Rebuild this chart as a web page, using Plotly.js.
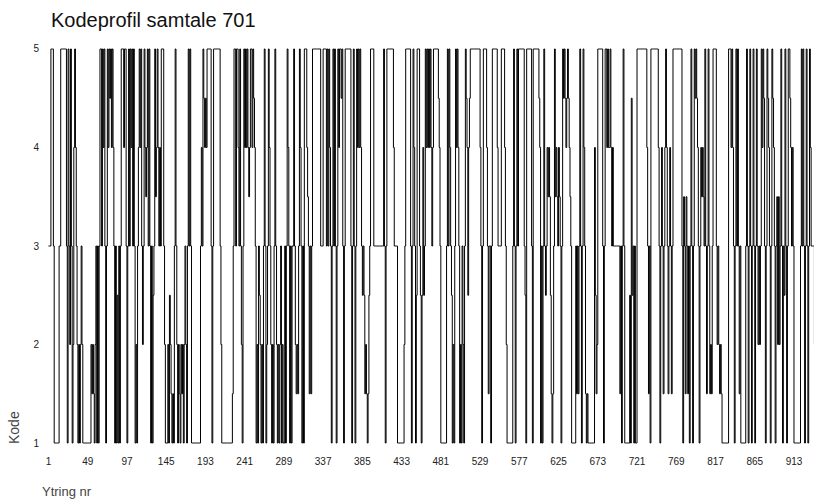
<!DOCTYPE html>
<html>
<head>
<meta charset="utf-8">
<script src="https://cdn.plot.ly/plotly-3.0.1.min.js"></script>
<style>html,body{margin:0;padding:0;background:#fff;}#chart{width:814px;height:504px;}</style>
</head>
<body>
<div id="chart"></div>
<script>
// Code values per utterance in blocks of 48 utterances
const blockA = [3,3,3,5,5,5,3,1,1,1,1,1,1,3,3,5,5,5,5,5,5,5,3,1,5,3,2,5,3,1,2,4,5,4,3,2,1,2,1,2,3,2,1,1,1,1,1,1];
const blockB = [1,1,1,1,2,1.5,2,1.5,1,2, 3,1,3,1,3,5,5,3,5,4, 5,3,1,3,5,4,5,4.5,5,4, 5,4,3,1,3,1,2.5,1,3,1, 3,5,5,5,4,5,5,3];
const blockC = [1,3,5,3,5,4,5,3,5,3, 1,2,1,3,4,5,4,5,3,2, 3,5,4,3.5,4,5,3,5,3,1, 3,1,2.5,3,5,3.5,4,5,4,3, 4,3,5,5,5,3,2,1];
const blockD = [1,1,2,1,2.5,2,1.5,1,1.5,1, 3,5,3,2,1,2,1.5,1,2,1.5, 2,1,2,3,2,1,3,5,3,5, 3,1,1,1,1,1,1,1,1,1,1,1, 3,4,3,5,4.5,4];
const blockE = [4.5,4,5,5,5,5,5, 3,1,3, 5,5,5,5,5,5,5,5, 3,2, 1,1,1,1,1,1,1,1,1,1,1,1,1, 1.5,3,5,5,3,5,5,4,3,5,3,2,1,3,5];
const blockF = [4,5,4,5,4,3.5,4,5,5,4, 5,4.5,4,3,1,2,1,3,2.5,2, 1,2,1,3,5,3,1,2,3,5, 4,3,2,1,2,1,3,5,3,2, 1,2,1,2,3,1,2,1];
const blockG = [1,3,1,3,5,4,3,1,3,1, 3,3,5,3,2,1.5,2,1.5,3,5, 4,3,1,3,1,5,5,5,4,3.5, 3,1.5,3,1.5,3,5, 5,5,5,5,5,5,5,5,5, 3,3,3];
const blockH = [5,5,5,5,3,5,3,5,4,3, 1,3,5,3,5,3,1,3,5,4, 5,5,4.5,5,3,1,3,5,5,5, 5,5,5,5,3,1,3,5,3,1, 3,5,4,5,4,5,4,3];
const blockI = [2.5,3,2.5,1.5,2,1.5,1,1.5,2.5,3, 5,5,5,5, 3,3,3,3,3,3,3,3,3,3,3,3, 5,3,1,3, 5,5,5,5,5,5,5,5, 4,3,3,3,3, 1,1,1,1,1];
const blockJ = [1,1,1,2,3, 5,5,5,5,5,5, 3,1,3,5,4,3,1,2.5,5,5, 5,3,2.5,1,2.5,4,2.5,3,5,4, 5,4,5,4,5,4,3,4,5,5, 5,5,5,5,4.5,4,3];
const blockK = [1,1,1,1,1,1,1, 3,5,3,5,4,3,2.5,1,2,1, 3,5,4,5,4,3,1,2,1,3, 2,1,3,5,4.5,4,2.5,4,4.5,5, 5,5,5,5,5,5,5,5,5,5,5];
const blockL = [4,3,1,3,5,5,5,5, 4,3,1.5,3,3,1,3, 5,5,5,5,5,5, 4,3,3,3,3, 5,5,5,5, 4,3,2,1, 1,1,1,1,1,1, 3,5,3,1,3,5,3,5];
const blockM = [5,5,5,5,5,5, 3,2.5,1, 5,5,5,5,5,5, 3,1, 5,5,5,5,5,5,5, 4.5,4,1,3,1,3,5,3,2.5,3, 4,3.5,4,3.5,2.5,1.5,1,1.5,3,5, 3.5,4,3.5,3];
const blockN = [4,3.5,3,1,3,5,4.5,5,4.5,4, 4.5,5,4.5,4,3.5,3, 1,1,1,1,1, 3,1.5,3,1.5,3,5,3,1,3,5, 4,3,1.5,1,1.5,1, 1,1,1,1,1,1,1, 4,2.5,1.5,2];
const blockO = [5,5,5,5,5,5, 3,1,3,5,5, 4,5,4,4,5,4,3,4,3,3, 3,3,3,3,3,3, 1.5,3,1,3,5,3, 1,1,1,1,1,1, 2.5,1,4.5,2.5,3,1,3,1,1];
const blockP = [5,5,5,5,5,5,5,5,5,5,5,5, 4,3,1.5,3,1, 5,5,5,5,5,5,5,5,5, 4,3,1,3,4,3,1.5,3,4,5, 4,3,1.5,3,4,3,1.5,3, 5,5,5,5];
const blockQ = [5,5,5,5,5,5,5, 3,1,3.5,3,1.5,3.5,3,1.5,3,1, 3,5,3,1,3,5,4.5,5,4.5,4, 3,1,3,4,3.5,4,3.5,3,5,3, 1.5,3,5,3,1.5,2,1.5,3,5,5,5];
const blockR = [5,3,2,3,2,1.5,2,1.5,1, 1,1,1,1,1,1,1, 5,5,5,4,5,4,3,1,3,5, 3,5,3,1.5,3,1,1,1,1,1,1, 3,5,3,1,3,5,3,1,3,5,3];
const blockS = [1,3,5,3,2,3,2,3,5,4, 5,4.5,3,1,3,5,4.5,4,3,1, 3,5,4.5,4,3,1,3,3.5,2,3.5, 2,3,5,3,1,3,2.5,5,3,1, 3,5,5,4.5,4,3,4,3];
const blockT = [1,1,1,1,1,1,1,1, 3,5,3,5,3,1,3,5,3,1,3,5, 4,3,3,3,3,2];

const xTickVals = [1,49,97,145,193,241,289,337,385,433,481,529,577,625,673,721,769,817,865,913];
const yTickVals = [1,2,3,4,5];

const titleText = "Kodeprofil samtale 701";
const xTitle = "Ytring nr";
const yTitle = "Kode";

const kode = [].concat(blockA, blockB, blockC, blockD, blockE, blockF, blockG, blockH, blockI, blockJ,
  blockK, blockL, blockM, blockN, blockO, blockP, blockQ, blockR, blockS, blockT);
const ytring = kode.map((_, i) => i + 1);

const font = "Liberation Sans, Arial, sans-serif";

Plotly.newPlot("chart", [{
  type: "scatter",
  mode: "lines",
  x: ytring,
  y: kode,
  line: {color: "#000", width: 1, shape: "hv", simplify: false},
  hoverinfo: "x+y"
}], {
  width: 814,
  height: 504,
  margin: {l: 47, r: 0, t: 48, b: 60, pad: 0},
  paper_bgcolor: "#fff",
  plot_bgcolor: "#fff",
  showlegend: false,
  title: {
    text: titleText,
    font: {family: font, size: 20, color: "#111"},
    xref: "container", yref: "container",
    x: 51 / 814, xanchor: "left",
    y: 1 - 20 / 504, yanchor: "middle"
  },
  xaxis: {
    range: [-0.8, 937.5],
    tickmode: "array",
    tickvals: xTickVals,
    ticktext: xTickVals.map(String),
    showgrid: false, zeroline: false, showline: false,
    ticks: "",
    ticklabelstandoff: 10,
    tickfont: {family: font, size: 10, color: "#222"}
  },
  yaxis: {
    range: [0.99, 5.01],
    tickmode: "array",
    tickvals: yTickVals,
    ticktext: yTickVals.map(String),
    showgrid: false, zeroline: false, showline: false,
    ticks: "",
    ticklabelstandoff: 7,
    tickfont: {family: font, size: 10, color: "#222"}
  },
  annotations: [
    {text: yTitle, xref: "paper", yref: "paper", x: (14 - 47) / 767, y: (444 - 428) / 396,
     xanchor: "center", yanchor: "middle", textangle: -90, showarrow: false,
     font: {family: font, size: 14, color: "#444"}},
    {text: xTitle, xref: "paper", yref: "paper", x: (40 - 47) / 767, y: (444 - 491) / 396,
     xanchor: "left", yanchor: "middle", showarrow: false,
     font: {family: font, size: 13, color: "#444"}}
  ]
}, {displayModeBar: false, staticPlot: true});
</script>
</body>
</html>
